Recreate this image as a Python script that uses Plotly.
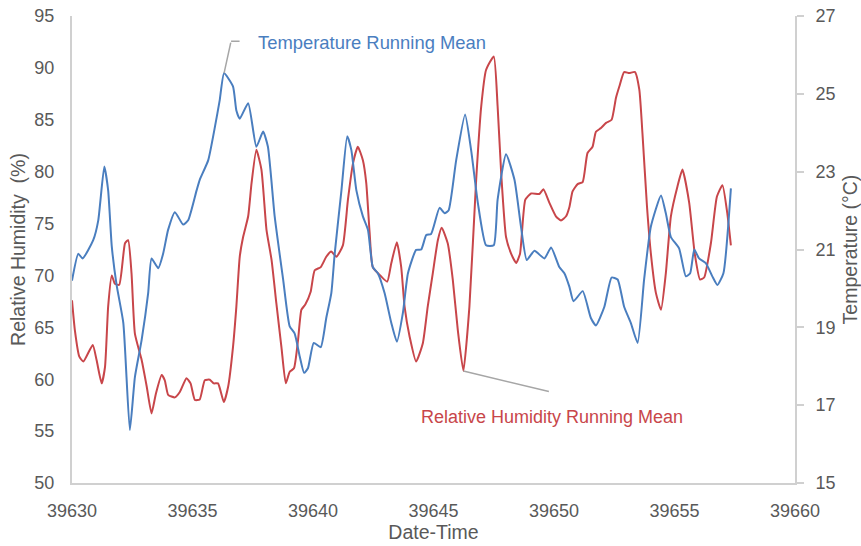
import plotly.graph_objects as go

# Temperature running mean (blue, right axis, °C)
temp_day = [39630.00, 39630.26, 39630.44, 39630.88, 39631.09, 39631.34, 39631.50, 39631.65, 39631.85, 39632.13,
            39632.40, 39632.61, 39632.89, 39633.16, 39633.30, 39633.58, 39633.78, 39633.99, 39634.27, 39634.61,
            39634.82, 39635.17, 39635.30, 39635.65, 39635.93, 39636.13, 39636.31, 39636.68, 39636.82, 39636.96,
            39637.31, 39637.65, 39637.93, 39638.13, 39638.41, 39638.76, 39639.03, 39639.24, 39639.45, 39639.63,
            39639.79, 39640.03, 39640.32, 39640.55, 39640.76, 39640.90, 39641.18, 39641.42, 39641.59, 39641.80,
            39642.07, 39642.28, 39642.48, 39642.69, 39642.97, 39643.25, 39643.48, 39643.73, 39643.94, 39644.28,
            39644.49, 39644.70, 39644.90, 39645.25, 39645.46, 39645.63, 39645.94, 39646.31, 39646.56, 39646.84,
            39647.18, 39647.50, 39647.66, 39648.01, 39648.36, 39648.63, 39648.87, 39649.19, 39649.60, 39649.88,
            39650.22, 39650.43, 39650.64, 39650.81, 39651.19, 39651.53, 39651.74, 39652.09, 39652.39, 39652.64,
            39652.91, 39653.19, 39653.47, 39653.74, 39654.02, 39654.44, 39654.64, 39654.85, 39655.19, 39655.47,
            39655.65, 39655.82, 39656.02, 39656.30, 39656.57, 39656.78, 39657.03, 39657.34]
temp_val = [20.20, 20.89, 20.77, 21.24, 21.75, 23.13, 22.52, 21.08, 20.09, 19.11,
            16.36, 17.72, 18.68, 19.88, 20.77, 20.52, 20.89, 21.51, 21.96, 21.64,
            21.75, 22.52, 22.79, 23.29, 24.15, 24.84, 25.53, 25.19, 24.57, 24.36,
            24.76, 23.64, 24.03, 23.64, 21.85, 20.23, 19.03, 18.84, 18.25, 17.83,
            17.95, 18.60, 18.49, 19.24, 19.88, 20.89, 22.52, 23.91, 23.56, 22.52,
            21.85, 21.51, 20.55, 20.39, 19.88, 19.11, 18.63, 19.37, 20.39, 20.99,
            21.00, 21.37, 21.40, 22.07, 21.93, 22.01, 23.29, 24.47, 23.56, 22.20,
            21.11, 21.11, 22.28, 23.45, 22.79, 21.59, 20.73, 20.97, 20.77, 21.05,
            20.55, 20.39, 20.04, 19.67, 19.93, 19.24, 19.05, 19.53, 20.28, 20.23,
            19.53, 19.11, 18.60, 20.23, 21.59, 22.39, 21.93, 21.32, 21.03, 20.31,
            20.39, 21.00, 20.77, 20.65, 20.31, 20.09, 20.39, 22.57]

# Relative humidity running mean (red, left axis, %)
rh_day = [39630.00, 39630.12, 39630.30, 39630.47, 39630.86, 39631.02, 39631.23, 39631.37, 39631.50, 39631.65,
          39631.78, 39631.96, 39632.20, 39632.33, 39632.47, 39632.61, 39632.89, 39633.10, 39633.30, 39633.48,
          39633.72, 39633.85, 39633.99, 39634.27, 39634.48, 39634.75, 39634.92, 39635.10, 39635.30, 39635.51,
          39635.72, 39635.88, 39636.06, 39636.30, 39636.48, 39636.68, 39636.82, 39636.96, 39637.10, 39637.31,
          39637.45, 39637.65, 39637.86, 39638.07, 39638.28, 39638.48, 39638.69, 39638.87, 39639.03, 39639.21,
          39639.38, 39639.52, 39639.68, 39639.90, 39640.07, 39640.32, 39640.55, 39640.76, 39640.97, 39641.24,
          39641.45, 39641.66, 39641.86, 39642.07, 39642.21, 39642.35, 39642.48, 39642.83, 39643.08, 39643.25,
          39643.48, 39643.66, 39643.80, 39644.01, 39644.28, 39644.56, 39644.76, 39644.97, 39645.18, 39645.34,
          39645.59, 39645.80, 39646.01, 39646.24, 39646.49, 39646.77, 39646.98, 39647.18, 39647.50, 39647.66,
          39647.81, 39648.01, 39648.22, 39648.43, 39648.59, 39648.81, 39649.05, 39649.39, 39649.56, 39649.81,
          39650.08, 39650.29, 39650.50, 39650.64, 39650.77, 39650.98, 39651.19, 39651.39, 39651.60, 39651.74,
          39651.95, 39652.16, 39652.39, 39652.57, 39652.71, 39652.91, 39653.12, 39653.36, 39653.54, 39653.67,
          39653.86, 39654.02, 39654.23, 39654.44, 39654.64, 39654.85, 39655.12, 39655.33, 39655.61, 39655.84,
          39656.06, 39656.23, 39656.51, 39656.76, 39656.99, 39657.19, 39657.34]
rh_val = [67.6, 64.7, 62.2, 61.7, 63.3, 61.85, 59.6, 61.2, 67.0, 70.0,
          69.2, 69.1, 73.1, 73.4, 70.2, 64.4, 61.85, 59.3, 56.7, 58.6,
          60.4, 59.9, 58.5, 58.25, 58.8, 60.1, 59.6, 58.0, 58.05, 59.9,
          59.95, 59.6, 59.6, 57.8, 59.3, 63.1, 67.0, 71.8, 73.7, 75.7,
          78.9, 82.1, 80.2, 74.4, 71.5, 67.3, 63.1, 59.6, 60.7, 61.05,
          63.8, 66.7, 67.2, 68.4, 70.5, 70.8, 71.8, 72.3, 71.8, 72.9,
          77.3, 80.8, 82.4, 81.1, 78.9, 74.1, 70.8, 69.9, 69.4, 71.2,
          73.2, 70.8, 67.0, 64.1, 61.7, 63.5, 67.0, 70.2, 73.4, 74.6,
          73.1, 69.6, 64.7, 60.8, 67.0, 79.2, 86.3, 89.8, 91.1, 86.3,
          79.8, 73.7, 72.1, 71.2, 72.1, 77.3, 77.9, 77.85, 78.3, 77.0,
          75.7, 75.3, 75.7, 76.6, 78.1, 78.8, 79.0, 81.8, 82.4, 83.85,
          84.2, 84.7, 85.0, 87.1, 88.2, 89.6, 89.5, 89.6, 87.9, 83.7,
          76.6, 72.1, 68.3, 66.7, 70.2, 75.7, 78.55, 80.2, 77.0, 72.1,
          69.6, 69.8, 73.1, 77.6, 78.7, 76.0, 72.9]

x_ticks = [39630, 39635, 39640, 39645, 39650, 39655, 39660]
rh_ticks = [50, 55, 60, 65, 70, 75, 80, 85, 90, 95]
temp_ticks = [15, 17, 19, 21, 23, 25, 27]

BLUE = "#4a7ebf"
RED = "#c8464a"
GREY_TXT = "#595959"
AXIS = "#d0d0d0"
LEADER = "#a6a6a6"
FONT = "Liberation Sans, Arial, sans-serif"

fig = go.Figure()
fig.add_trace(go.Scatter(x=rh_day, y=rh_val, mode="lines", name="Relative Humidity Running Mean",
                         line=dict(color=RED, width=2, shape="spline", smoothing=0.5)))
fig.add_trace(go.Scatter(x=temp_day, y=temp_val, mode="lines", name="Temperature Running Mean",
                         yaxis="y2", line=dict(color=BLUE, width=2, shape="spline", smoothing=0.5)))

# annotation anchor points taken from the data
i_tmax = max(range(len(temp_val)), key=lambda i: temp_val[i])
win = [i for i in range(len(rh_day)) if 39645 <= rh_day[i] <= 39647]
i_rmin = min(win, key=lambda i: rh_val[i])
tx, ty = temp_day[i_tmax], temp_val[i_tmax]
rx, ry = rh_day[i_rmin], rh_val[i_rmin]

annotations = [
    dict(x=tx, y=ty, xref="x", yref="y2", text="", showarrow=True, arrowhead=0,
         arrowwidth=1.5, arrowcolor=LEADER, ax=7, ay=-32, standoff=0),
    dict(x=tx, y=ty, xref="x", yref="y2", text="", showarrow=True, arrowhead=0,
         arrowwidth=1.5, arrowcolor=LEADER, ax=10, ay=0, xshift=7, yshift=32, standoff=0),
    dict(x=tx, y=ty, xref="x", yref="y2", text="Temperature Running Mean", showarrow=False,
         xanchor="left", yanchor="middle", xshift=32, yshift=31,
         font=dict(family=FONT, size=18.4, color=BLUE)),
    dict(x=rx, y=ry, xref="x", yref="y", text="", showarrow=True, arrowhead=0,
         arrowwidth=1.5, arrowcolor=LEADER, ax=87, ay=21, standoff=0),
    dict(x=rx, y=ry, xref="x", yref="y", text="Relative Humidity Running Mean", showarrow=False,
         xanchor="left", yanchor="middle", xshift=-44, yshift=-46,
         font=dict(family=FONT, size=18, color=RED)),
]

fig.update_layout(
    width=861, height=546,
    margin=dict(l=72, r=66, t=16, b=63, autoexpand=False),
    paper_bgcolor="white", plot_bgcolor="white",
    showlegend=False,
    font=dict(family=FONT, size=18, color=GREY_TXT),
    annotations=annotations,
    xaxis=dict(range=[39630, 39660], tickvals=x_ticks, tickformat="d", automargin=False,
               showgrid=False, zeroline=False, showline=True, linecolor=AXIS, linewidth=2,
               ticks="", ticklabelstandoff=10, ticklabeloverflow="allow",
               title=dict(text="Date-Time", standoff=6, font=dict(size=19.5))),
    yaxis=dict(range=[50, 95], tickvals=rh_ticks, tickformat="d", automargin=False,
               showgrid=False, zeroline=False, showline=True, linecolor=AXIS, linewidth=2,
               ticks="", ticklabelstandoff=12, ticklabeloverflow="allow",
               title=dict(text="Relative Humidity  (%)", standoff=4, font=dict(size=19.5))),
    yaxis2=dict(range=[15, 27], tickvals=temp_ticks, tickformat="d", overlaying="y", side="right",
                automargin=False,
                showgrid=False, zeroline=False, showline=True, linecolor=AXIS, linewidth=2,
                ticks="outside", ticklen=7, tickcolor=AXIS, tickwidth=1.5, ticklabelstandoff=8,
                ticklabeloverflow="allow",
                title=dict(text="Temperature (°C)", standoff=10, font=dict(size=19.5))),
)

# remove the browser's default 8px body margin so the 861x546 figure fills the window exactly
fig.write_html("out.html", config={"displayModeBar": False},
               post_script="document.body.style.margin='0';document.body.style.overflow='hidden';")
